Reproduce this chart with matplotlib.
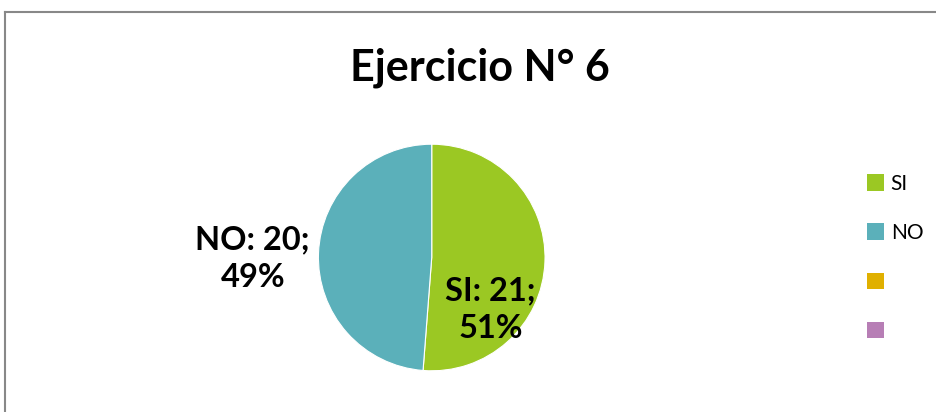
import matplotlib.pyplot as plt
from matplotlib.patches import Patch

categories = ["SI", "NO", "", ""]
values = [21, 20, 0, 0]
colors = ["#9BC823", "#5BB0BA", "#E0B000", "#B77EB5"]

plt.rcParams['font.family'] = ['Lato', 'DejaVu Sans']

fig = plt.figure(figsize=(9.37, 4.12), dpi=100)

# chart border (only top and left visible in the original crop)
fig.add_artist(plt.Line2D([0.0055, 1.0], [0.971, 0.971], color="#888888", lw=1.5))
fig.add_artist(plt.Line2D([0.0055, 0.0055], [0.0, 0.971], color="#888888", lw=1.5))

ax = fig.add_axes([0.3395, 0.1, 0.2425, 0.55])
ax.set_aspect("equal")

shown = [v for v in values if v > 0]
wedges, _ = ax.pie(shown, colors=colors[:len(shown)], startangle=90,
                   counterclock=False, radius=1.0,
                   wedgeprops=dict(linewidth=0.8, edgecolor="white"))
ax.set_xlim(-1, 1)
ax.set_ylim(-1, 1)

total = sum(values)
# SI label inside, NO label outside left
ax.text(0.52, -0.46, "%s: %d;\n%d%%" % (categories[0], values[0], round(100 * values[0] / total)),
        ha="center", va="center", fontsize=23.5, fontweight="bold", linespacing=1.4)
ax.text(-1.58, -0.01, "%s: %d;\n%d%%" % (categories[1], values[1], round(100 * values[1] / total)),
        ha="center", va="center", fontsize=23.5, fontweight="bold", linespacing=1.4)

fig.text(0.512, 0.835, "Ejercicio N° 6", ha="center", va="center",
         fontsize=31, fontweight="bold")

handles = [Patch(facecolor=c, edgecolor="none") for c in colors]
fig.legend(handles, categories, loc="center left", bbox_to_anchor=(0.925, 0.375),
           frameon=False, fontsize=15, handlelength=0.85, handleheight=0.85,
           handletextpad=0.3, labelspacing=1.4, borderaxespad=0, borderpad=0)

fig.savefig("out.png", dpi=100)
